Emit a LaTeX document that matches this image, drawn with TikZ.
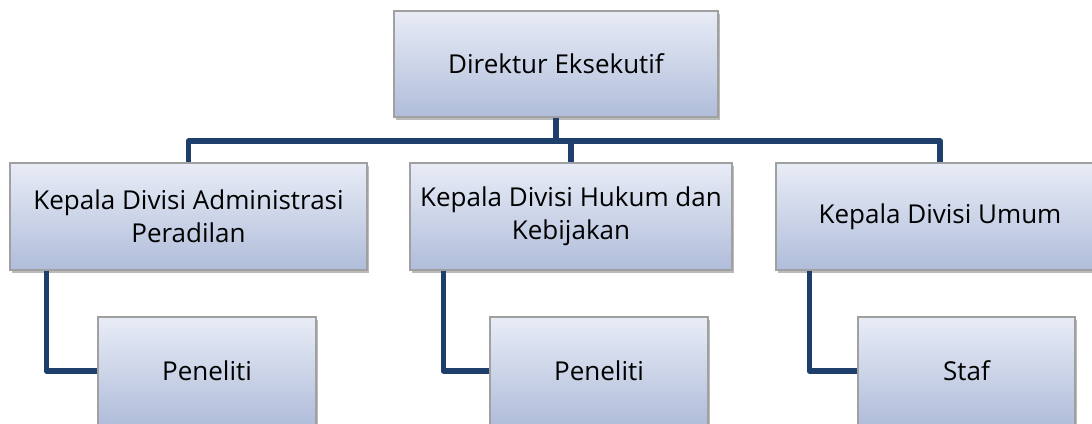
\documentclass[tikz,border=0pt]{standalone}
\usepackage{fontspec}
\setmainfont{Open Sans}
\usetikzlibrary{shadows}
\definecolor{linec}{RGB}{30,62,108}
\definecolor{boxtop}{RGB}{232,236,246}
\definecolor{boxbot}{RGB}{176,189,218}
\definecolor{boxedge}{RGB}{160,160,160}
\tikzset{
  orgbox/.style={draw=boxedge, line width=1.2pt, top color=boxtop, bottom color=boxbot,
    align=center, inner sep=0pt, minimum height=#1,
    font=\fontsize{26}{33}\selectfont,
    drop shadow={shadow xshift=2pt, shadow yshift=-3pt, opacity=0.45, fill=black!60}},
  orgbox/.default=107pt,
  link/.style={draw=linec, line width=5.5pt, line join=round}
}
\begin{document}
\begin{tikzpicture}[x=1pt,y=-1pt]
\useasboundingbox (0,0) rectangle (1092,423);
\clip (0,0) rectangle (1092,423);
% nodes
\node[orgbox, minimum width=324pt, minimum height=106pt] (top) at (556,64) {Direktur Eksekutif};
\node[orgbox, minimum width=357pt] (L) at (188.5,216.5) {Kepala Divisi Administrasi\\Peradilan};
\node[orgbox, minimum width=322pt] (M) at (571,216.5) {Kepala Divisi Hukum dan\\Kebijakan};
\node[orgbox, minimum width=328pt] (R) at (940,216.5) {Kepala Divisi Umum};
\node[orgbox, minimum width=218pt, minimum height=108pt] (LC) at (207,371) {Peneliti};
\node[orgbox, minimum width=218pt, minimum height=108pt] (MC) at (599,371) {Peneliti};
\node[orgbox, minimum width=217pt, minimum height=108pt] (RC) at (966.5,371) {Staf};
% connectors
\coordinate (bus) at (556,141);
\draw[link] (top.south) -- (bus) -| (L.north);
\draw[link] (bus) -| (M.north);
\draw[link] (bus) -| (R.north);
\coordinate (Lt) at ([xshift=37pt]L.south west);
\coordinate (Mt) at ([xshift=34pt]M.south west);
\coordinate (Rt) at ([xshift=34pt]R.south west);
\draw[link] (Lt) |- (LC.west);
\draw[link] (Mt) |- (MC.west);
\draw[link] (Rt) |- (RC.west);
\end{tikzpicture}
\end{document}
